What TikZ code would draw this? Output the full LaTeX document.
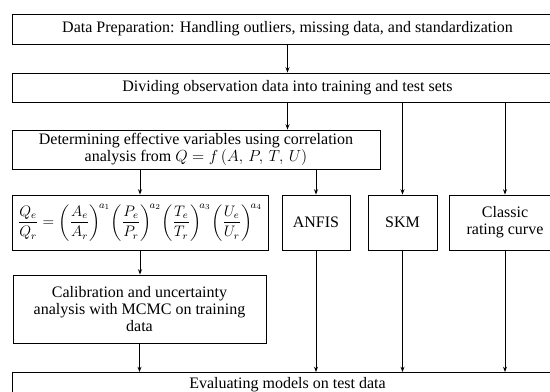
\documentclass[tikz,border=0pt,12pt]{standalone}
\usepackage{amsmath}
\usepackage{graphicx}
\usepackage{fontspec}
\setmainfont{Liberation Serif}
\usetikzlibrary{arrows.meta}

\begin{document}
\begin{tikzpicture}[x=0.75pt,y=-0.75pt,
  box/.style={draw,line width=0.7pt,align=center,inner sep=2pt},
  arr/.style={line width=0.7pt,-{Stealth[length=4pt,width=3pt]}}]
\clip (0,0) rectangle (550,392);

% boxes
\node[box,minimum width=551*0.75pt,minimum height=30*0.75pt] (prep) at (287.5,29) {Data Preparation: Handling outliers, missing data, and standardization};
\node[box,minimum width=551*0.75pt,minimum height=29*0.75pt] (divide) at (287.5,87.5) {Dividing observation data into training and test sets};
\node[box,minimum width=368*0.75pt,minimum height=39*0.75pt] (corr) at (196,149.5) {Determining effective variables using correlation\\[-2pt] analysis from $Q = f\,(A,\, P,\, T,\, U)$};
\node[box,minimum width=256*0.75pt,minimum height=55*0.75pt,inner sep=0pt] (eqbox) at (140,222.5) {\scalebox{0.95}{$\dfrac{Q_e}{Q_r}=\left(\dfrac{A_e}{A_r}\right)^{\!a_1}\!\left(\dfrac{P_e}{P_r}\right)^{\!a_2}\!\left(\dfrac{T_e}{T_r}\right)^{\!a_3}\!\left(\dfrac{U_e}{U_r}\right)^{\!a_4}$}};
\node[box,minimum width=68*0.75pt,minimum height=55*0.75pt] (anfis) at (316,222.5) {ANFIS};
\node[box,minimum width=69*0.75pt,minimum height=55*0.75pt] (skm) at (402.5,222.5) {SKM};
\node[box,minimum width=112*0.75pt,minimum height=55*0.75pt] (classic) at (505,222.5) {Classic\\[-2pt] rating curve};
\node[box,minimum width=253*0.75pt,minimum height=68*0.75pt] (calib) at (139.5,309) {Calibration and uncertainty\\[-2pt] analysis with MCMC on training\\[-2pt] data};
\node[box,minimum width=551*0.75pt,minimum height=24*0.75pt,anchor=north] (eval) at (287.5,372) {Evaluating models on test data};

% arrows
\draw[arr] (prep.south) -- (divide.north);
\draw[arr] (divide.south) -- (divide.south |- corr.north);
\draw[arr] (divide.south -| skm.north) -- (skm.north);
\draw[arr] (divide.south -| classic.north) -- (classic.north);
\draw[arr] (eqbox.north |- corr.south) -- (eqbox.north);
\draw[arr] (anfis.north |- corr.south) -- (anfis.north);
\draw[arr] (eqbox.south) -- (eqbox.south |- calib.north);
\draw[arr] (calib.south) -- (calib.south |- eval.north);
\draw[arr] (anfis.south) -- (anfis.south |- eval.north);
\draw[arr] (skm.south) -- (skm.south |- eval.north);
\draw[arr] (classic.south) -- (classic.south |- eval.north);
\end{tikzpicture}
\end{document}
